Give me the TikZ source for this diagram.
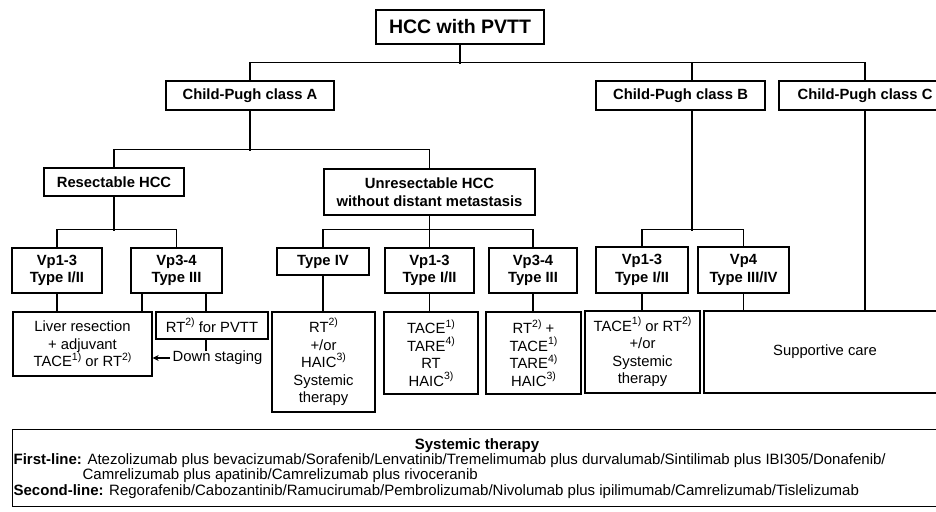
\documentclass[tikz,border=0pt]{standalone}
\usepackage{fontspec}
\setmainfont{Liberation Sans}
\usetikzlibrary{arrows.meta}
\newcommand{\sups}[1]{\raisebox{0.45em}{\fontsize{10.5}{10.5}\selectfont #1}}
\begin{document}
\begin{tikzpicture}[x=1pt,y=-1pt,line width=1.3pt,
  lbl/.style={draw,line width=1.3pt,font=\bfseries\fontsize{14.8}{17.5}\selectfont,align=center,inner sep=0pt},
  txt/.style={draw,line width=1.3pt,font=\fontsize{14.8}{17.5}\selectfont,align=center,inner sep=0pt},
  plain/.style={inner sep=0pt,font=\fontsize{15}{15.5}\selectfont}]
\useasboundingbox (0,0) rectangle (936,511);
% level 0
\node[lbl,minimum width=168,minimum height=34,font=\bfseries\fontsize{19.5}{22}\selectfont] (hcc) at (460,27) {HCC with PVTT};
% level 1
\node[lbl,minimum width=168,minimum height=29] (cpa) at (250,95.5) {Child-Pugh class A};
\node[lbl,minimum width=169,minimum height=29] (cpb) at (680.5,95.5) {Child-Pugh class B};
\node[lbl,minimum width=172,minimum height=29] (cpc) at (865,95.5) {Child-Pugh class C};
% level 2
\node[lbl,minimum width=140,minimum height=28] (res) at (114,182) {Resectable HCC};
\node[lbl,minimum width=211,minimum height=46] (unres) at (429.5,192) {Unresectable HCC\\without distant metastasis};
% level 3
\node[lbl,minimum width=90,minimum height=45] (ra) at (57,270.5) {Vp1-3\\Type I/II};
\node[lbl,minimum width=91,minimum height=45] (rb) at (176.5,270.5) {Vp3-4\\Type III};
\node[lbl,minimum width=92,minimum height=27] (ua) at (323,261.5) {Type IV};
\node[lbl,minimum width=89,minimum height=45] (ub) at (429.5,270.5) {Vp1-3\\Type I/II};
\node[lbl,minimum width=88,minimum height=45] (uc) at (533,270.5) {Vp3-4\\Type III};
\node[lbl,minimum width=92,minimum height=46] (ba) at (642,270) {Vp1-3\\Type I/II};
\node[lbl,minimum width=91,minimum height=46] (bb) at (743.5,270) {Vp4\\Type III/IV};
% level 4
\node[txt,minimum width=139,minimum height=64] (liver) at (82.5,344) {Liver resection\\+ adjuvant\\TACE\sups{1)} or RT\sups{2)}};
\node[txt,minimum width=112,minimum height=27] (rtp) at (212,325.5) {RT\sups{2)} for PVTT};
\node[txt,minimum width=103,minimum height=100] (uat) at (323.5,362) {RT\sups{2)}\\+/or\\HAIC\sups{3)}\\Systemic\\therapy};
\node[txt,minimum width=94,minimum height=82] (ubt) at (431,353) {TACE\sups{1)}\\TARE\sups{4)}\\RT\\HAIC\sups{3)}};
\node[txt,minimum width=95,minimum height=82] (uct) at (533.5,353) {RT\sups{2)} +\\TACE\sups{1)}\\TARE\sups{4)}\\HAIC\sups{3)}};
\node[txt,minimum width=115,minimum height=82] (bat) at (642.5,352) {TACE\sups{1)} or RT\sups{2)}\\+/or\\Systemic\\therapy};
\node[txt,minimum width=242,minimum height=82] (sup) at (825,352) {Supportive care};
\node[inner sep=0pt,font=\fontsize{14.8}{17.5}\selectfont,anchor=west] (ds) at (172,358) {Down staging};
% systemic therapy box
\node[draw,line width=1.3pt,minimum width=930,minimum height=77,anchor=north west,inner sep=0pt] (sys) at (12,429) {};
\node[plain,anchor=base,font=\bfseries\fontsize{15}{15.5}\selectfont] (syst) at (477,449) {Systemic therapy};
\node[plain,anchor=base west] (l1) at (13,464) {\textbf{First-line:} Atezolizumab plus bevacizumab/Sorafenib/Lenvatinib/Tremelimumab plus durvalumab/Sintilimab plus IBI305/Donafenib/};
\node[plain,anchor=base west] (l2) at (82,479.5) {Camrelizumab plus apatinib/Camrelizumab plus rivoceranib};
\node[plain,anchor=base west] (l3) at (13,495) {\textbf{Second-line:} Regorafenib/Cabozantinib/Ramucirumab/Pembrolizumab/Nivolumab plus ipilimumab/Camrelizumab/Tislelizumab};
% connectors
\draw (hcc.south) -- ++(0,19);
\draw (cpa.north) -- ++(0,-18) -| (cpc.north);
\draw ([xshift=11.5]cpb.north) -- ++(0,-18);
\draw (cpa.south) -- ++(0,40);
\draw (res.north) -- ++(0,-18) -| (unres.north);
\draw (res.south) -- ++(0,34);
\draw (ra.north) -- ++(0,-18) -| (rb.north);
\draw (unres.south) -- ++(0,15);
\draw (ua.north) -- ++(0,-18) -| (uc.north);
\draw (ub.north) -- ++(0,-18);
\draw ([xshift=11.5]cpb.south) -- ++(0,120);
\draw (ba.north) -- ++(0,-17) -| (bb.north);
\draw (cpc.south) -- (cpc.south |- sup.north);
\draw (ra.south) -- (ra.south |- liver.north);
\draw ([xshift=-34.5]rb.south) -- ([xshift=-34.5]rb.south |- liver.north);
\draw ([xshift=29.5]rb.south) -- ([xshift=29.5]rb.south |- rtp.north);
\draw (ua.south) -- (ua.south |- uat.north);
\draw (ub.south) -- (ub.south |- ubt.north);
\draw (uc.south) -- (uc.south |- uct.north);
\draw (ba.south) -- (ba.south |- bat.north);
\draw (bb.south) -- (bb.south |- sup.north);
\draw ([xshift=-6]rtp.south) -- ++(0,11);
\draw[-{Stealth[length=6,width=6]}] ([xshift=-2]ds.west) -- (ds.west -| liver.east);
\end{tikzpicture}
\end{document}
